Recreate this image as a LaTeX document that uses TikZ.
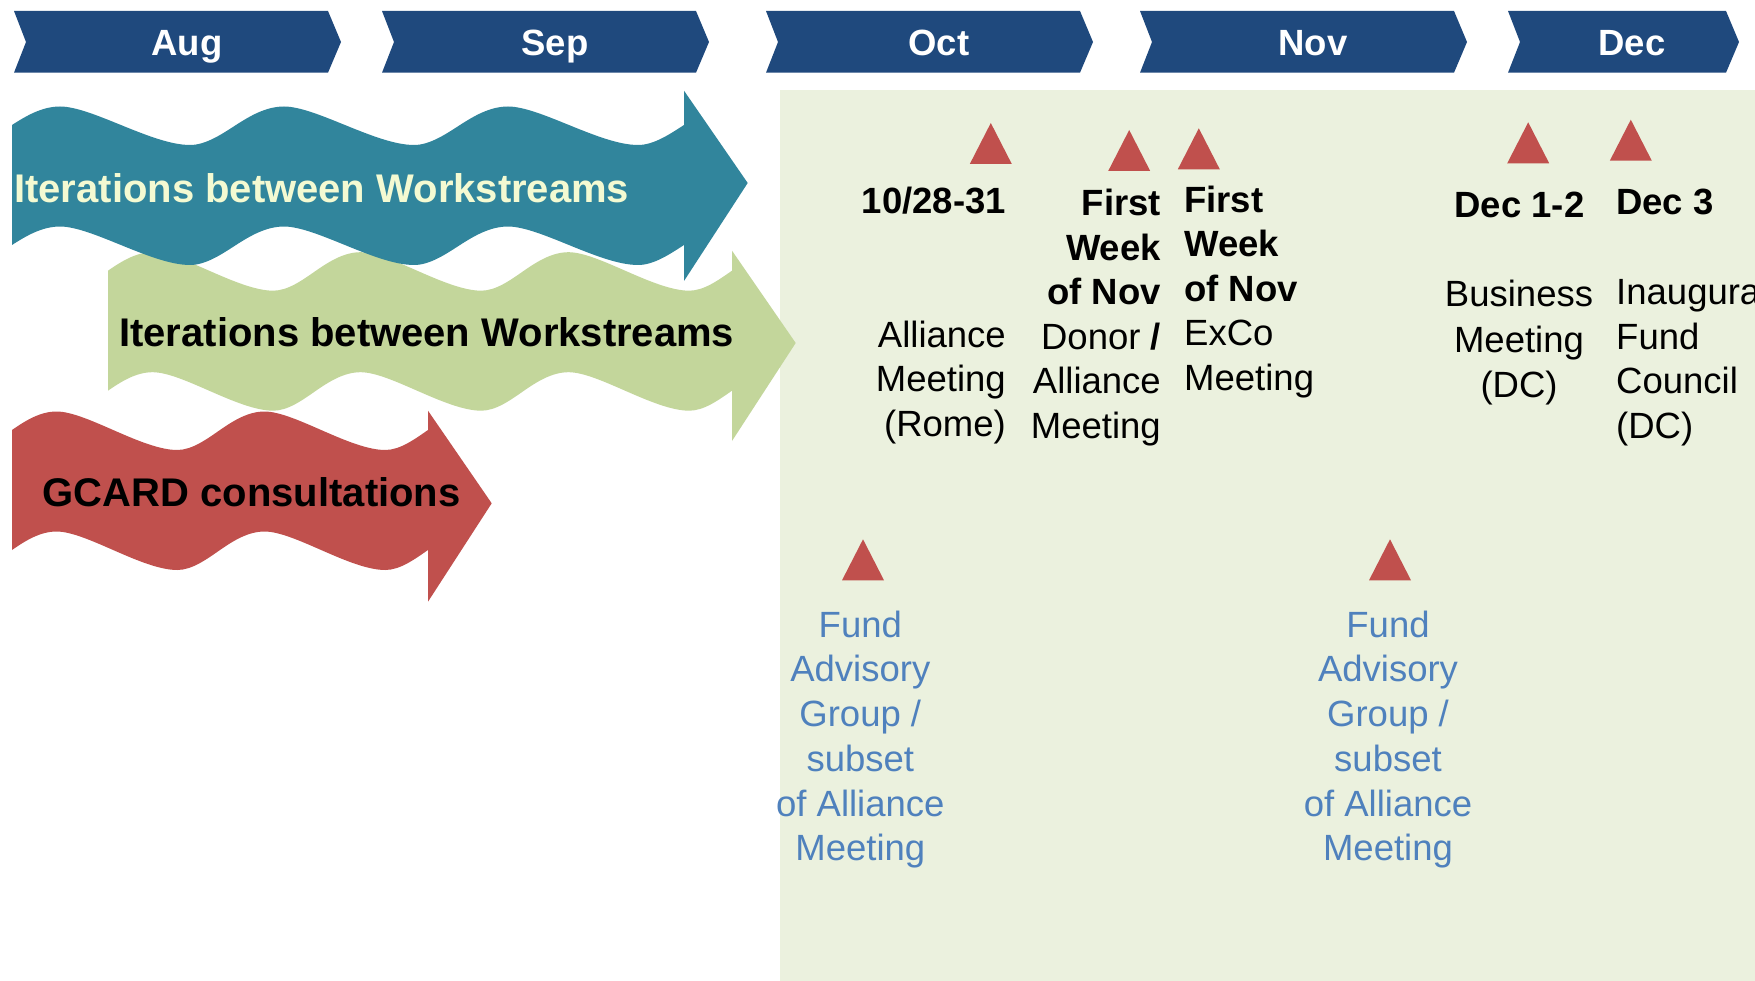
\documentclass[tikz,border=0pt]{standalone}
\usepackage{fontspec}
\setmainfont{Liberation Sans}
\definecolor{navy}{HTML}{1F497D}
\definecolor{tealc}{HTML}{31859C}
\definecolor{lgreen}{HTML}{C3D69B}
\definecolor{evred}{HTML}{C0504D}
\definecolor{bgc}{HTML}{EBF1DE}
\definecolor{blueev}{HTML}{4F81BD}
\definecolor{tealtxt}{HTML}{F4FAD2}

\newcommand\wavearrow[9]{%
  \pgfmathsetmacro\wS{#3/224}%
  \pgfmathsetmacro\wB{#1+#4*#3}%
  \pgfmathtruncatemacro\wN{#4-1}%
  \fill[#9] (#1,#2)
    \foreach \i in {0,...,\wN}{
      .. controls ({#1+(\i*224+14)*\wS},{#2-9}) and ({#1+(\i*224+30)*\wS},{#2-18.5}) .. ({#1+(\i*224+48)*\wS},{#2-18.5})
      .. controls ({#1+(\i*224+80)*\wS},{#2-18.5}) and ({#1+(\i*224+140)*\wS},{#2+20}) .. ({#1+(\i*224+178)*\wS},{#2+20})
      .. controls ({#1+(\i*224+194)*\wS},{#2+20}) and ({#1+(\i*224+210)*\wS},{#2+9}) .. ({#1+(\i*224+224)*\wS},{#2})
    }
    -- ({\wB},{#5}) -- ({#7},{#8}) -- ({\wB},{#6}) -- ({\wB},{#2+120})
    \foreach \i in {\wN,...,0}{
      .. controls ({#1+(\i*224+210)*\wS},{#2+129}) and ({#1+(\i*224+194)*\wS},{#2+140}) .. ({#1+(\i*224+178)*\wS},{#2+140})
      .. controls ({#1+(\i*224+140)*\wS},{#2+140}) and ({#1+(\i*224+80)*\wS},{#2+101.5}) .. ({#1+(\i*224+48)*\wS},{#2+101.5})
      .. controls ({#1+(\i*224+30)*\wS},{#2+101.5}) and ({#1+(\i*224+14)*\wS},{#2+111}) .. ({#1+\i*224*\wS},{#2+120})
    }
    -- cycle;
}

\newcommand\monthchev[5]{%
  \fill[navy] (#1,11) -- (#2,11) -- ({#2+13},42) -- (#2,72.7) -- (#1,72.7) -- ({#1+12},42) -- cycle;
  \node[month] (#4) at (#3,56) {#5};
}

\newcommand\evtri[2]{\fill[evred] ({#1-21},#2) -- (#1,{#2-41}) -- ({#1+21},#2) -- cycle;}

\begin{document}
\begin{tikzpicture}[x=1pt,y=-1pt,
  month/.style={font=\fontsize{36.5}{44}\selectfont\bfseries, text=white, anchor=base, inner sep=0pt},
  bandtext/.style={font=\fontsize{40}{48}\selectfont\bfseries, anchor=base west, inner sep=0pt},
  evt/.style={font=\fontsize{36.5}{44.5}\selectfont, inner sep=0pt, text=black},
  evblue/.style={evt, font=\fontsize{36.5}{44.7}\selectfont, text=blueev, align=center, anchor=base}
]
\useasboundingbox (0,0) rectangle (1755,981);
\clip (0,0) rectangle (1755,981);
\fill[white] (0,0) rectangle (1755,981);

% month chevrons
\monthchev{14}{328}{187}{aug}{Aug}
\monthchev{382}{696}{555}{sep}{Sep}
\monthchev{766}{1080}{939}{oct}{Oct}
\monthchev{1140}{1454}{1313}{nov}{Nov}
\monthchev{1508}{1726}{1632}{dec}{Dec}

% event background
\fill[bgc] (780,90) rectangle (1755,981);

% wavy arrows
\wavearrow{108}{270.7}{208}{3}{250.7}{441}{795.7}{343}{lgreen}
\wavearrow{12}{430}{208}{2}{410.7}{601.7}{491.7}{503.3}{evred}
\wavearrow{12}{125}{224}{3}{90.7}{281}{747.7}{183}{tealc}

\node[bandtext, text=tealtxt] (iter1) at (14,202.7) {Iterations between Workstreams};
\node[bandtext, text=black] (iter2) at (119,346.7) {Iterations between Workstreams};
\node[bandtext, text=black] (gcard) at (42.6,506) {GCARD consultations};

% event markers
\evtri{990.8}{164}
\evtri{1129.2}{171}
\evtri{1198.8}{169.3}
\evtri{1528.2}{163.3}
\evtri{1630.8}{160.7}
\evtri{863}{580.3}
\evtri{1390}{580.3}

% event texts (base anchor = baseline of last line)
\node[evt, anchor=base east] (d1) at (1006,214) {\textbf{10/28-31}};
\node[evt, align=right, anchor=base east] (e1) at (1006,436.3) {Alliance\\Meeting\\(Rome)};
\node[evt, align=right, anchor=base east] (e2) at (1161,438.3) {\textbf{First}\\\textbf{Week}\\\textbf{of Nov}\\Donor \textbf{/}\\Alliance\\Meeting};
\node[evt, align=left, anchor=base west] (e3) at (1184,390) {\textbf{First}\\\textbf{Week}\\\textbf{of Nov}\\ExCo\\Meeting};
\node[evt, anchor=base] (d4) at (1519.5,217.3) {\textbf{Dec 1-2}};
\node[evt, font=\fontsize{36.5}{45.3}\selectfont, align=center, anchor=base] (e4) at (1519,397.3) {Business\\Meeting\\(DC)};
\node[evt, anchor=base west] (d5) at (1616,215) {\textbf{Dec 3}};
\node[evt, align=left, anchor=base west] (e5) at (1616,438.3) {Inaugural\\Fund\\Council\\(DC)};

\node[evblue] (f1) at (860.3,860.7) {Fund\\Advisory\\Group /\\subset\\of Alliance\\Meeting};
\node[evblue] (f2) at (1388,860.7) {Fund\\Advisory\\Group /\\subset\\of Alliance\\Meeting};
\end{tikzpicture}
\end{document}
